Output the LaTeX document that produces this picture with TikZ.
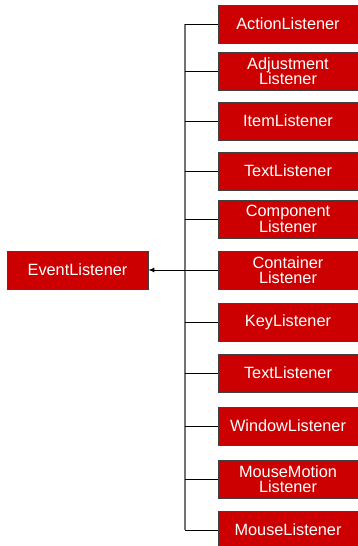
\documentclass[tikz,border=0pt]{standalone}
\usepackage{fontspec}
\setmainfont{Liberation Sans}
\usetikzlibrary{arrows.meta}
\definecolor{boxred}{HTML}{CC0000}
\tikzset{
  lbox/.style={draw=black!75, line width=0.8bp, fill=boxred, text=white, minimum width=140bp, minimum height=38bp, inner sep=0pt, align=center, font=\fontsize{16.3bp}{15.5bp}\selectfont},
  ebox/.style={lbox, minimum width=141bp},
  trunk/.style={draw=black!55, line width=1.2bp},
  branch/.style={draw=black, line width=0.9bp},
}
\begin{document}
\begin{tikzpicture}[x=1bp,y=-1bp]
\useasboundingbox (0,0) rectangle (357,546);
\node[ebox] (ev) at (77.5,270) {EventListener};
\node[lbox] (b1) at (288,24) {ActionListener};
\node[lbox] (b2) at (288,71) {Adjustment\\Listener};
\node[lbox] (b3) at (288,121) {ItemListener};
\node[lbox] (b4) at (288,171) {TextListener};
\node[lbox] (b5) at (288,219) {Component\\Listener};
\node[lbox] (b6) at (288,270) {Container\\Listener};
\node[lbox] (b7) at (288,322) {KeyListener};
\node[lbox] (b8) at (288,373) {TextListener};
\node[lbox] (b9) at (288,426) {WindowListener};
\node[lbox] (b10) at (288,479) {MouseMotion\\Listener};
\node[lbox] (b11) at (288,530) {MouseListener};
\coordinate (ttop) at (185,24);
\coordinate (tbot) at (185,530);
\coordinate (tmid) at (185,270);
\draw[trunk] (ttop) -- (tbot);
\foreach \i in {1,...,11} {
  \draw[branch] (b\i.west) -- (b\i.west -| ttop);
}
\draw[branch, -{Latex[length=6bp,width=5bp]}] (tmid) -- (ev.east);
\end{tikzpicture}
\end{document}
